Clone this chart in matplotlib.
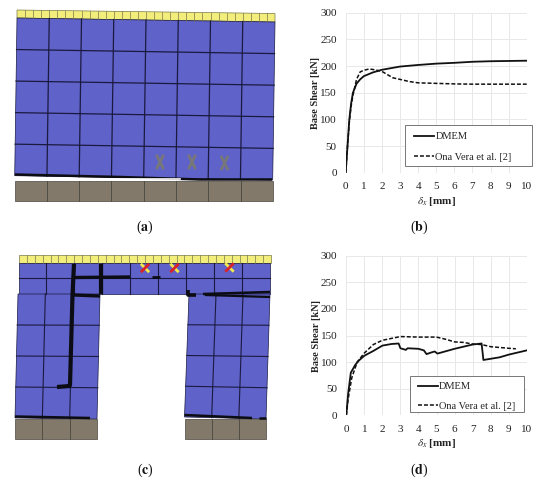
import numpy as np
import matplotlib
matplotlib.use("Agg")
import matplotlib.pyplot as plt
from matplotlib.patches import Polygon, Rectangle

plt.rcParams['font.family'] = ['Liberation Serif', 'DejaVu Serif']
plt.rcParams['mathtext.fontset'] = 'stix'

W, H = 550, 484
xticks = list(range(0, 11))
yticks = list(range(0, 301, 50))
dmem_name = "DMEM"
ona_name = "Ona Vera et al. [2]"

b_dmem_x = [0, .1, .2, .3, .4, .6, .8, 1, 1.5, 2, 2.5, 3, 4, 5, 6, 7, 8, 9, 10]
b_dmem_y = [0, 50, 100, 130, 150, 167, 175, 181, 188, 193, 196, 199, 202, 204.5, 206, 208, 209, 209.5, 210]
b_ona_x = [0, .1, .2, .3, .4, .6, .8, 1, 1.3, 1.6, 2, 2.3, 2.6, 3, 3.5, 4, 5, 6, 7, 8, 9, 10]
b_ona_y = [0, 50, 95, 125, 145, 175, 189, 192, 194.5, 193, 190, 184, 178, 175, 171, 168.5, 167.5, 166.5, 166, 166, 166, 166]
d_dmem_x = [0, .1, .25, .5, .7, 1, 1.5, 2, 2.5, 2.9, 3, 3.3, 3.4, 4, 4.3, 4.45, 4.7, 4.9, 5.05, 6, 7, 7.5, 7.6, 8.5, 9, 10]
d_dmem_y = [0, 40, 80, 95, 103, 112, 121, 131, 134, 135, 126, 123, 126, 125, 122, 115, 118, 120, 116, 125, 133, 135, 104, 109, 114, 122]
d_ona_x = [0, .1, .3, .6, 1, 1.5, 2, 3, 4, 5, 5.5, 6, 6.5, 7, 7.5, 8, 9, 9.4]
d_ona_y = [0, 30, 70, 100, 117, 133, 141, 148, 147, 147, 143, 138, 137, 134, 133, 129, 126, 125]

BLUE, YEL, GND = '#5f62c8', '#f3ee7c', '#82796a'
fig = plt.figure(figsize=(W/100, H/100), dpi=100, facecolor='white')


def chart(box, legbox, anchor, spacing, s1, s2):
    l, r, t, b = box
    ax = fig.add_axes([l/W, 1-b/H, (r-l)/W, (b-t)/H])
    ax.plot(*s1, color='#111111', lw=1.3, label=dmem_name)
    ax.plot(*s2, color='#111111', lw=1.1, ls=(0, (2.6, 1.3)), label=ona_name)
    ax.set_xlim(0, 10); ax.set_ylim(0, 300)
    ax.set_xticks(xticks); ax.set_yticks(yticks)
    ax.grid(color='#e8e8e8', lw=0.7); ax.set_axisbelow(True)
    for s in ax.spines.values():
        s.set_visible(False)
    ax.tick_params(axis='x', length=0, labelsize=8, colors='#222222', pad=7)
    ax.tick_params(axis='y', length=0, labelsize=8, colors='#222222', pad=6.5)
    ax.set_ylabel('Base Shear [kN]', fontsize=7.5, fontweight='bold', labelpad=0, color='#222222')
    ax.set_xlabel(r'$\delta_x$ [mm]', fontsize=8, fontweight='bold', labelpad=2.5, color='#222222')
    x0, x1, y0, y1 = legbox
    ax.add_patch(Rectangle((x0/W, 1-y1/H), (x1-x0)/W, (y1-y0)/H, transform=fig.transFigure,
                           fc='white', ec='#777777', lw=0.7, zorder=3, clip_on=False))
    leg = ax.legend(loc='upper left', bbox_to_anchor=(anchor[0]/W, 1-anchor[1]/H),
                    bbox_transform=fig.transFigure, borderaxespad=0, frameon=False, fontsize=7.5,
                    labelspacing=spacing, handlelength=1.95, handletextpad=0.1, borderpad=0)
    leg.set_zorder(6)
    for tx in leg.get_texts():
        tx.set_color('#222222')
    return ax


chart((345.7, 526.7, 12.7, 172.7), (404.7, 531.7, 125.3, 166.3), (414, 132), 1.1, (b_dmem_x, b_dmem_y), (b_ona_x, b_ona_y))
chart((346.3, 526.7, 255.7, 415.3), (410, 524, 376, 411.7), (417.7, 382), 1.0, (d_dmem_x, d_dmem_y), (d_ona_x, d_ona_y))

# overlay in pixel coordinates for the two mesh drawings
ov = fig.add_axes([0, 0, 1, 1], facecolor='none')
ov.set_xlim(0, W); ov.set_ylim(H, 0); ov.axis('off')


def bil(q, u, v):
    tl, tr, br, bl = [np.array(p, float) for p in q]
    return (1-v)*((1-u)*tl+u*tr) + v*((1-u)*bl+u*br)


def mesh(q, nx, ny, face, edge, lw=1.0, z=1, sides=True):
    ov.add_patch(Polygon(q, closed=True, fc=face, ec=edge if sides else 'none', lw=0.5, zorder=z))
    for i in range(1, nx):
        ov.plot(*zip(bil(q, i/nx, 0), bil(q, i/nx, 1)), color=edge, lw=lw, zorder=z+.1)
    for j in range(1, ny):
        ov.plot(*zip(bil(q, 0, j/ny), bil(q, 1, j/ny)), color=edge, lw=lw, zorder=z+.1)


def thick(pts, lw=2.2):
    ov.plot(*zip(*pts), color='#0c0c14', lw=lw, zorder=4, solid_capstyle='butt')


def cross(x, y, c1, c2, s=3.2, lw=2.0):
    ov.plot([x-s, x+s], [y-s, y+s], color=c1, lw=lw, zorder=5)
    ov.plot([x-s, x+s], [y+s, y-s], color=c2, lw=lw, zorder=5)


# panel (a)
mesh([(17, 10), (275, 13.5), (275, 22), (17, 18)], 32, 1, YEL, '#77774a', lw=0.5)
mesh([(17, 18), (275, 22), (272.7, 180), (14.7, 175.7)], 8, 5, BLUE, '#1a1a40', lw=0.9)
mesh([(14.5, 180.5), (273, 180.5), (273, 201), (14.5, 201)], 8, 1, GND, '#4a463c', lw=0.6)
thick([(15, 174.5), (120, 177), (200, 179.5), (272, 179.5)], 1.8)
ov.plot([15, 180], [179, 179], color='white', lw=1.2, zorder=4)
for x_, y_ in [(160, 162), (192, 162), (224.5, 163)]:
    ov.plot([x_-3, x_+3], [y_-6, y_+6], color='#77777a', lw=2.0, zorder=5)
    ov.plot([x_-3, x_+3], [y_+6, y_-6], color='#77777a', lw=2.0, zorder=5)

# panel (c)
top = 262.7
mesh([(19, 255), (271, 255), (271, top), (19, top)], 32, 1, YEL, '#77774a', lw=0.5)
mesh([(18.5, top), (270, top), (270, 294), (18.5, 294)], 9, 2, BLUE, '#1a1a40', lw=0.8)
mesh([(18, 294), (100, 294), (97, 419), (15, 418)], 3, 4, BLUE, '#1a1a40', lw=0.8)
mesh([(189, 294), (270, 294), (266, 419), (184.5, 417)], 3, 4, BLUE, '#1a1a40', lw=0.8)
mesh([(15, 419), (97, 419), (97, 439), (15, 439)], 3, 1, GND, '#4a463c', lw=0.6)
mesh([(184.5, 419), (266, 419), (266, 439), (184.5, 439)], 3, 1, GND, '#4a463c', lw=0.6)
thick([(74, 264), (72.5, 295), (70, 385), (69.5, 386), (57, 387)], 3.0)
thick([(101, 264), (101, 294)], 3.0)
thick([(74, 277.5), (130, 277)], 2.4)
thick([(74, 295), (100, 296)], 2.4)
thick([(152, 277), (160, 277)], 2.0)
thick([(188, 290), (188, 295), (196, 295)], 2.6)
thick([(203, 294), (270, 292)], 1.8)
thick([(205, 295), (270, 297)], 1.6)
thick([(15, 416.5), (90, 418)], 1.8)
thick([(184.5, 415), (252, 418)], 1.8)
thick([(259, 418), (266, 418)], 1.8)
cross(145, 268, '#f2e84a', '#d8222a')
cross(174.5, 268, '#f2e84a', '#d8222a')
cross(229.5, 267.5, '#f2e84a', '#d8222a')

for x_, y_, s_ in [(145, 227, 'a'), (419, 227, 'b'), (145, 470, 'c'), (419, 470, 'd')]:
    ov.text(x_, y_, '($\\mathbf{%s}$)' % s_, ha='center', va='center', fontsize=10, color='#111111')

fig.savefig('out.png', dpi=100, facecolor='white')
